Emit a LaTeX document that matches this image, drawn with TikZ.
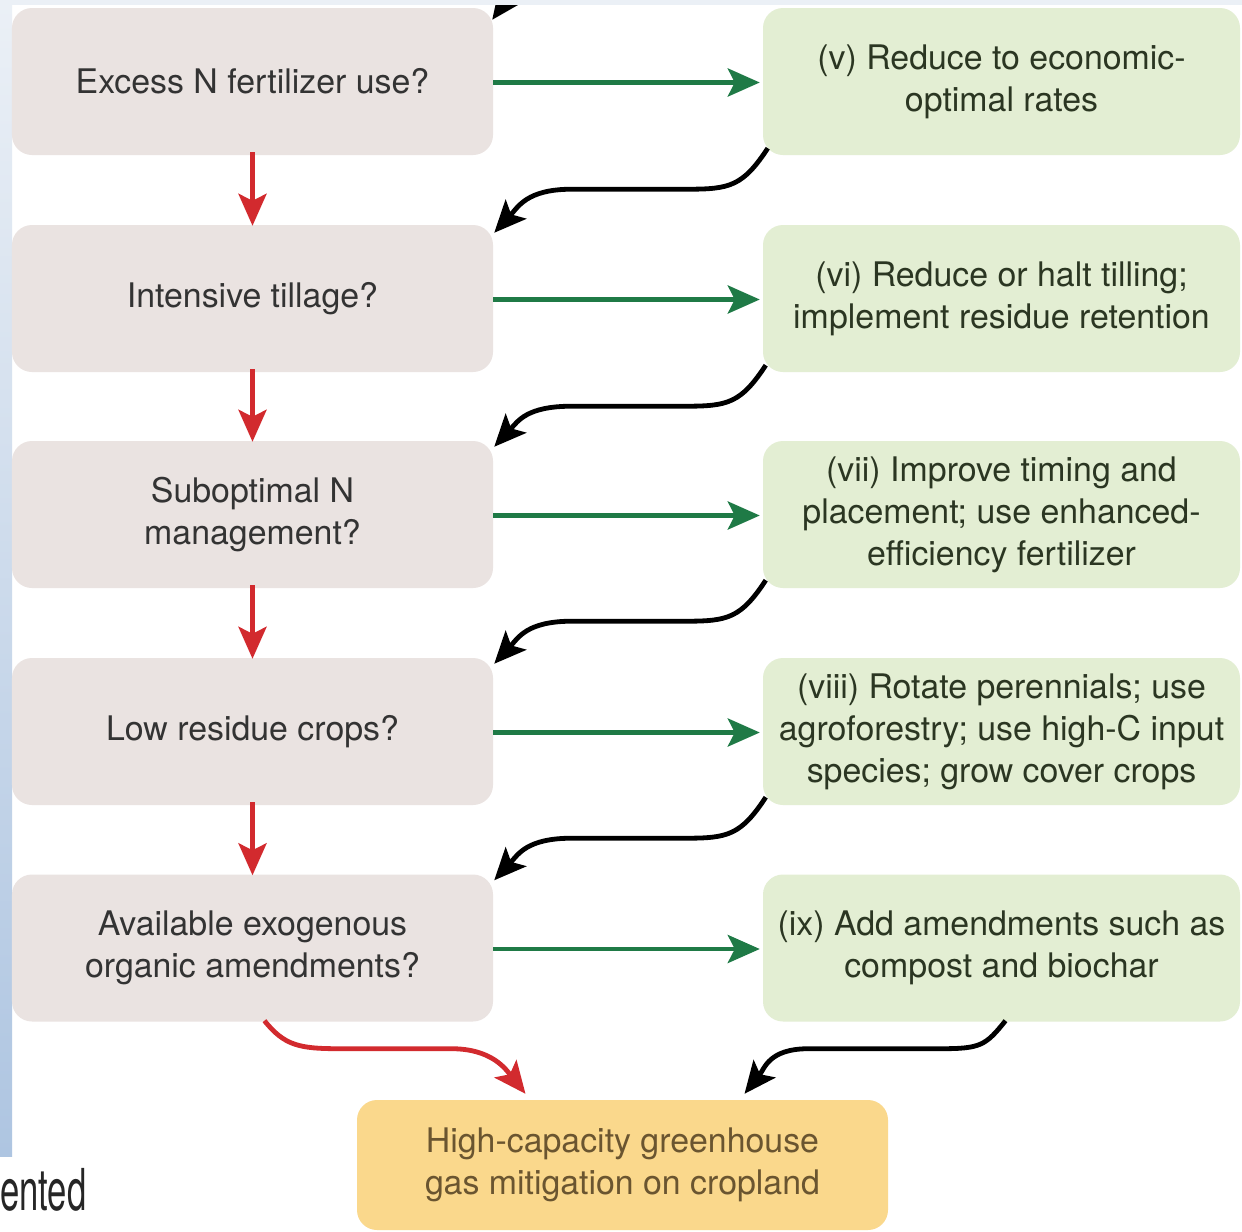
\documentclass[tikz,border=0pt]{standalone}
\usepackage{fontspec}
\setmainfont{TeX Gyre Heros}
\newfontfamily\condfont[FakeStretch=0.6]{TeX Gyre Heros}
\usetikzlibrary{arrows.meta}
\definecolor{lbox}{HTML}{EAE3E1}
\definecolor{rbox}{HTML}{E3EED3}
\definecolor{obox}{HTML}{FAD88C}
\definecolor{ltext}{HTML}{333333}
\definecolor{rtext}{HTML}{2B3622}
\definecolor{otext}{HTML}{6A5530}
\definecolor{garrow}{HTML}{1F7A46}
\definecolor{rarrow}{HTML}{D22A2E}
\definecolor{stripA}{HTML}{EBF0F6}
\definecolor{stripB}{HTML}{AEC5E1}
\begin{document}
\begin{tikzpicture}[x=1bp,y=-1bp,
  basebox/.style={rounded corners=20bp, inner sep=0pt, align=center,
    font=\fontsize{34}{42}\selectfont},
  lq/.style={basebox, fill=lbox, text=ltext, minimum width=481bp, minimum height=147bp},
  ra/.style={basebox, fill=rbox, text=rtext, minimum width=477bp, minimum height=147bp},
  goal/.style={basebox, fill=obox, text=otext, minimum width=531bp, minimum height=130bp},
  tip/.style={-{Stealth[length=32bp,width=28bp,inset=7bp]}},
  garr/.style={draw=garrow, line width=4.8bp, tip},
  rarr/.style={draw=rarrow, line width=4.8bp, tip},
  barr/.style={draw=black, line width=4.8bp, tip},
]
\useasboundingbox (0,0) rectangle (1242,1232);
\fill[white] (0,0) rectangle (1242,1232);
\shade[top color=stripA, bottom color=stripB] (0,0) rectangle (12,1156);

% left question boxes
\node[lq] (l1) at (252.5,81.5) {Excess N fertilizer use?};
\node[lq] (l2) at (252.5,298.5) {Intensive tillage?};
\node[lq] (l3) at (252.5,514.5) {Suboptimal N\\management?};
\node[lq] (l4) at (252.5,731.5) {Low residue crops?};
\node[lq] (l5) at (252.5,948) {Available exogenous\\organic amendments?};

% right action boxes
\node[ra] (r1) at (1001.5,81.5) {(v) Reduce to economic-\\optimal rates};
\node[ra] (r2) at (1001.5,298.5) {(vi) Reduce or halt tilling;\\implement residue retention};
\node[ra] (r3) at (1001.5,514.5) {(vii) Improve timing and\\placement; use enhanced-\\efficiency fertilizer};
\node[ra] (r4) at (1001.5,731.5) {(viii) Rotate perennials; use\\agroforestry; use high-C input\\species; grow cover crops};
\node[ra] (r5) at (1001.5,948) {(ix) Add amendments such as\\compost and biochar};

% goal
\node[goal] (g) at (622.5,1165) {High-capacity greenhouse\\gas mitigation on cropland};

% green arrows
\foreach \i in {1,...,5}{
  \draw[garr] ([yshift=-1]l\i.east) -- ([xshift=-3,yshift=-1]r\i.west);
}
% red arrows
\draw[rarr] ([yshift=3]l1.south) -- ([yshift=-1]l2.north);
\draw[rarr] ([yshift=3]l2.south) -- ([yshift=-1]l3.north);
\draw[rarr] ([yshift=3]l3.south) -- ([yshift=-1]l4.north);
\draw[rarr] ([yshift=3]l4.south) -- ([yshift=-1]l5.north);

% black curved arrows
\draw[barr] ([shift={(5,-7)}]r1.south west) .. controls +(-25,38) and +(42,0) .. ++(-80,41)
  -- ++(-116,0) .. controls +(-45,0) and +(24,-26) .. ([shift={(1,8)}]l2.north east);
\draw[barr] ([shift={(3,-7)}]r2.south west) .. controls +(-25,38) and +(42,0) .. ++(-80,41)
  -- ++(-114,0) .. controls +(-45,0) and +(24,-26) .. ([shift={(1,6)}]l3.north east);
\draw[barr] ([shift={(3,-8)}]r3.south west) .. controls +(-25,38) and +(42,0) .. ++(-80,41)
  -- ++(-114,0) .. controls +(-45,0) and +(24,-26) .. ([shift={(1,6)}]l4.north east);
\draw[barr] ([shift={(3,-8)}]r4.south west) .. controls +(-25,38) and +(42,0) .. ++(-80,41)
  -- ++(-114,0) .. controls +(-45,0) and +(24,-26) .. ([shift={(1,6)}]l5.north east);

% final arrows
\draw[rarr] ([xshift=12,yshift=1]l5.south) .. controls +(20,25) and +(-40,0) .. ++(75,28)
  -- ++(112,0) .. controls +(40,0) and +(-20,-25) .. ([shift={(-97,-6)}]g.north);
\draw[barr] ([xshift=4,yshift=1]r5.south) .. controls +(-20,25) and +(40,0) .. ++(-65,28)
  -- ++(-132,0) .. controls +(-40,0) and +(20,-25) .. ([shift={(122,-6)}]g.north);

% cut-off arrow at the top
\begin{scope}
\clip (0,5) rectangle (1242,1232);
\draw[barr] (660,-50) .. controls (580,-50) and (525,-25) .. ([shift={(-1,12)}]l1.north east);
\end{scope}
\fill[stripA] (0,0) rectangle (1242,5);

% cut-off caption text
\node[anchor=base west, inner sep=0pt, text=black!85, font=\condfont\fontsize{58}{64}\selectfont] (cap) at (0,1210) {ented};
\end{tikzpicture}
\end{document}
